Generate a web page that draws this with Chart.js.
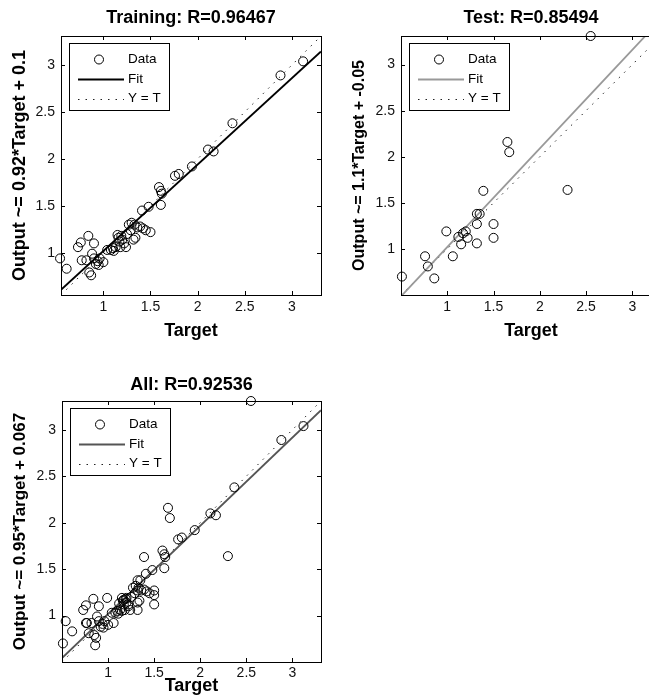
<!DOCTYPE html>
<html>
<head>
<meta charset="utf-8">
<script src="https://cdn.jsdelivr.net/npm/chart.js@4.4.0/dist/chart.umd.min.js"></script>
<style>
  html, body { margin: 0; padding: 0; background: #fff; overflow: hidden; width: 649px; height: 699px; }
  canvas { position: absolute; }
</style>
</head>
<body>
<canvas id="cTrain" width="340" height="345" style="left:0;top:0"></canvas>
<canvas id="cTest" width="340" height="345" style="left:330px;top:0"></canvas>
<canvas id="cAll" width="340" height="339" style="left:0;top:360px"></canvas>
<script>
// Training set (target, network output)
const trainTarget = [0.54, 0.61, 0.73, 0.76, 0.77, 0.82, 0.84, 0.85, 0.87, 0.88, 0.90, 0.90, 0.92, 0.94,
  0.95, 0.96, 1.00, 1.04, 1.08, 1.10, 1.11, 1.13, 1.15, 1.16, 1.17, 1.18, 1.19, 1.20, 1.22, 1.24,
  1.25, 1.27, 1.29, 1.30, 1.32, 1.33, 1.34, 1.36, 1.39, 1.41, 1.42, 1.45, 1.48, 1.50, 1.59, 1.61,
  1.61, 1.62, 1.76, 1.80, 1.94, 2.11, 2.17, 2.37, 2.88, 3.12];
const trainOutput = [0.94, 0.83, 1.06, 1.11, 0.92, 0.92, 1.18, 0.79, 0.76, 0.99, 1.10, 0.94, 0.88, 0.91,
  0.87, 0.94, 0.90, 1.03, 1.03, 1.05, 1.02, 1.06, 1.19, 1.16, 1.12, 1.06, 1.18, 1.14, 1.10, 1.06,
  1.20, 1.30, 1.24, 1.32, 1.14, 1.30, 1.16, 1.27, 1.28, 1.45, 1.26, 1.24, 1.49, 1.22, 1.70, 1.66,
  1.51, 1.63, 1.82, 1.84, 1.92, 2.10, 2.08, 2.38, 2.89, 3.04];

// Test set
const testTarget = [0.51, 0.76, 0.79, 0.86, 0.99, 1.06, 1.12, 1.15, 1.17, 1.20, 1.22, 1.32, 1.32,
  1.32, 1.35, 1.39, 1.50, 1.50, 1.65, 1.67, 2.30, 2.55];
const testOutput = [0.70, 0.92, 0.81, 0.68, 1.19, 0.92, 1.13, 1.05, 1.17, 1.19, 1.12, 1.06, 1.27,
  1.38, 1.38, 1.63, 1.27, 1.12, 2.16, 2.05, 1.64, 3.31];

// All = training + test
const allTarget = trainTarget.concat(testTarget);
const allOutput = trainOutput.concat(testOutput);

// fits [slope, intercept] and axis limits
const fitTrain = [0.92, 0.1];
const fitTest = [1.07, -0.05];
const fitAll = [0.95, 0.067];
const limTrain = [0.55, 3.31];
const limTest = [0.5, 3.31];
const limAll = [0.5, 3.31];
const tickValues = [1, 1.5, 2, 2.5, 3];

const FONT = "'Liberation Sans', Arial, Helvetica, sans-serif";

// box round the axes with inward tick marks, like matlab
const framePlugin = {
  id: 'frame',
  afterDatasetsDraw(chart) {
    const { ctx, chartArea: a, scales } = chart;
    ctx.save();
    ctx.strokeStyle = '#000';
    ctx.lineWidth = 1;
    ctx.strokeRect(Math.round(a.left) + 0.5, Math.round(a.top) + 0.5,
      Math.round(a.right - a.left), Math.round(a.bottom - a.top));
    ctx.beginPath();
    tickValues.forEach(v => {
      const xp = Math.round(scales.x.getPixelForValue(v)) + 0.5;
      ctx.moveTo(xp, a.bottom); ctx.lineTo(xp, a.bottom - 4);
      ctx.moveTo(xp, a.top); ctx.lineTo(xp, a.top + 4);
      const yp = Math.round(scales.y.getPixelForValue(v)) + 0.5;
      ctx.moveTo(a.left, yp); ctx.lineTo(a.left + 4, yp);
      ctx.moveTo(a.right, yp); ctx.lineTo(a.right - 4, yp);
    });
    ctx.stroke();
    ctx.restore();
  }
};

// legend box in the top left corner
const legendPlugin = {
  id: 'legendBox',
  afterDraw(chart) {
    const { ctx, chartArea: a } = chart;
    const x = Math.round(a.left) + 8, y = Math.round(a.top) + 7, w = 100, h = 67;
    ctx.save();
    ctx.fillStyle = '#fff';
    ctx.fillRect(x, y, w, h);
    ctx.strokeStyle = '#000';
    ctx.lineWidth = 1;
    ctx.strokeRect(x + 0.5, y + 0.5, w, h);
    chart.data.datasets.forEach((ds, i) => {
      const cy = y + 16.5 + i * 19.5;
      ctx.strokeStyle = ds.borderColor;
      ctx.lineWidth = ds.borderWidth;
      ctx.setLineDash(ds.borderDash || []);
      if (ds.showLine) {
        ctx.beginPath();
        ctx.moveTo(x + 9, Math.round(cy) + 0.5);
        ctx.lineTo(x + 55, Math.round(cy) + 0.5);
        ctx.stroke();
      } else {
        ctx.beginPath();
        ctx.arc(x + 30, cy, ds.pointRadius, 0, Math.PI * 2);
        ctx.stroke();
      }
      ctx.setLineDash([]);
      ctx.fillStyle = '#000';
      ctx.font = '13.5px ' + FONT;
      ctx.textBaseline = 'middle';
      ctx.fillText(ds.label, x + 59, cy);
    });
    ctx.restore();
  }
};

function makeChart(id, target, output, fit, lim, o) {
  const points = target.map((t, i) => ({ x: t, y: output[i] }));
  const fitLine = lim.map(v => ({ x: v, y: fit[0] * v + fit[1] }));
  const idLine = lim.map(v => ({ x: v, y: v }));
  const setTicks = s => { s.ticks = tickValues.map(v => ({ value: v })); };
  return new Chart(document.getElementById(id), {
    type: 'scatter',
    data: {
      datasets: [
        { label: 'Data', data: points, pointStyle: 'circle', pointRadius: 4.5, borderWidth: 1,
          borderColor: '#000', backgroundColor: 'rgba(0,0,0,0)', showLine: false, clip: false },
        { label: 'Fit', data: fitLine, showLine: true, borderColor: o.fitColor, borderWidth: 1.8,
          pointRadius: 0 },
        { label: 'Y = T', data: idLine, showLine: true, borderColor: '#222', borderWidth: 1,
          borderDash: [1.5, 6], pointRadius: 0 }
      ]
    },
    options: {
      responsive: false,
      animation: false,
      events: [],
      layout: { padding: { left: o.pl, right: o.pr, top: 0, bottom: 0 } },
      plugins: {
        legend: { display: false },
        tooltip: { enabled: false },
        title: {
          display: true, text: o.title, fullSize: false, color: '#000',
          font: { family: FONT, size: 18, weight: 'bold' },
          padding: { top: o.tpt, bottom: o.tpb }
        }
      },
      scales: {
        x: {
          type: 'linear', min: lim[0], max: lim[1],
          afterBuildTicks: setTicks,
          afterFit: s => { s.height = o.xh; },
          grid: { display: false, drawTicks: false },
          border: { display: false },
          ticks: { padding: o.xtp, color: '#111', font: { family: FONT, size: 14 },
            maxRotation: 0, autoSkip: false, callback: v => String(v) },
          title: { display: true, text: 'Target', color: '#000',
            font: { family: FONT, size: 18, weight: 'bold' }, padding: { top: 0, bottom: o.xtb } }
        },
        y: {
          type: 'linear', min: lim[0], max: lim[1],
          afterBuildTicks: setTicks,
          afterFit: s => { s.width = o.yw; },
          grid: { display: false, drawTicks: false },
          border: { display: false },
          ticks: { padding: 6, color: '#111', font: { family: FONT, size: 14 },
            autoSkip: false, callback: v => String(v) },
          title: { display: true, text: o.ylabel, color: '#000',
            font: { family: FONT, size: o.yfs, weight: 'bold' }, padding: { top: o.ypt, bottom: 0 } }
        }
      }
    },
    plugins: [framePlugin, legendPlugin]
  });
}

makeChart('cTrain', trainTarget, trainOutput, fitTrain, limTrain, {
  title: 'Training: R=0.96467', ylabel: 'Output ~= 0.92*Target + 0.1', fitColor: '#000',
  pl: 0, pr: 19, yw: 61, yfs: 18, ypt: 9.2, tpt: 7.5, tpb: 6.9, xh: 50, xtp: 3.6, xtb: 3.2
});
makeChart('cTest', testTarget, testOutput, fitTest, limTest, {
  title: 'Test: R=0.85494', ylabel: 'Output ~= 1.1*Target + -0.05', fitColor: '#999',
  pl: 10, pr: 9, yw: 61, yfs: 16, ypt: 10.4, tpt: 7.5, tpb: 6.9, xh: 50, xtp: 3.6, xtb: 3.2
});
makeChart('cAll', allTarget, allOutput, fitAll, limAll, {
  title: 'All: R=0.92536', ylabel: 'Output ~= 0.95*Target + 0.067', fitColor: '#555',
  pl: 0, pr: 19, yw: 62, yfs: 17, ypt: 9.8, tpt: 14.2, tpb: 5.2, xh: 37, xtp: 2.6, xtb: 1.7
});
</script>
</body>
</html>
